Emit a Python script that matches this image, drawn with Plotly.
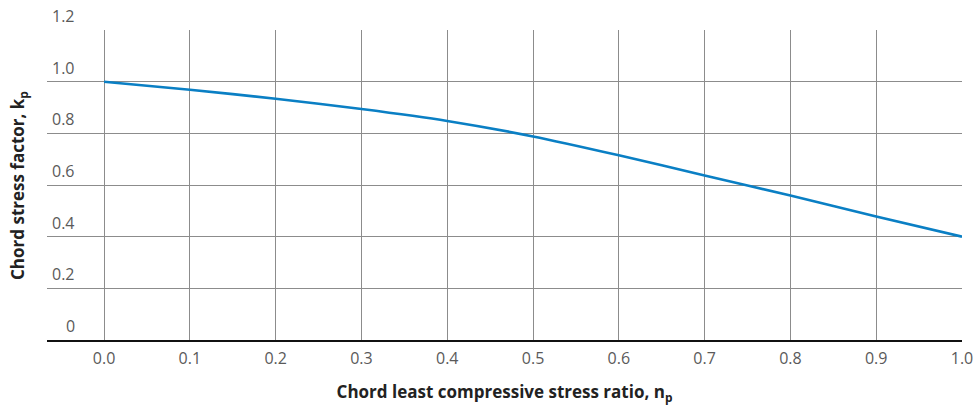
import plotly.graph_objects as go

np_ratio = [0.0, 0.1, 0.2, 0.3, 0.4, 0.5, 0.6, 0.7, 0.8, 0.9, 1.0]
kp_values = [1.0, 0.969, 0.934, 0.894, 0.848, 0.788, 0.715, 0.637, 0.559, 0.478, 0.40]
x_tick_vals = [0.0, 0.1, 0.2, 0.3, 0.4, 0.5, 0.6, 0.7, 0.8, 0.9, 1.0]
x_tick_text = ["0.0", "0.1", "0.2", "0.3", "0.4", "0.5", "0.6", "0.7", "0.8", "0.9", "1.0"]
y_tick_vals = [0, 0.2, 0.4, 0.6, 0.8, 1.0, 1.2]
y_tick_text = ["0", "0.2", "0.4", "0.6", "0.8", "1.0", "1.2"]

FONT = "Open Sans"
TICK_COLOR = "#5a5a5a"
GRID = "#8c8c8c"

fig = go.Figure()
fig.add_trace(go.Scatter(
    x=np_ratio, y=kp_values, mode="lines",
    line=dict(color="#0a7fc4", width=2.6, shape="spline", smoothing=0.6),
    hoverinfo="skip", showlegend=False, cliponaxis=False,
))

fig.update_layout(
    width=974, height=407,
    margin=dict(l=47, r=12, t=30, b=67, autoexpand=False),
    paper_bgcolor="white", plot_bgcolor="white",
    font=dict(family=FONT, color=TICK_COLOR, size=16),
    xaxis=dict(
        range=[-0.0665, 1.0], tickvals=x_tick_vals, ticktext=x_tick_text,
        showgrid=True, gridcolor=GRID, gridwidth=1, automargin=False,
        ticklabeloverflow="allow",
        zeroline=False, showline=True, linecolor="#111111", linewidth=2,
        ticks="", ticklabelstandoff=3,
        tickfont=dict(family=FONT, size=16, color=TICK_COLOR),
        title=dict(text="<b>Chord least compressive stress ratio, n<sub>p</sub></b>",
                   font=dict(family=FONT, size=17, color="#222222"), standoff=18),
    ),
    yaxis=dict(
        range=[0, 1.2], tickvals=y_tick_vals, showticklabels=False,
        showgrid=True, gridcolor=GRID, gridwidth=1, zeroline=False,
        showline=False, ticks="", automargin=False,
    ),
)

for v, t in zip(y_tick_vals, y_tick_text):
    fig.add_annotation(
        x=-0.0315, y=v, xref="x", yref="y", text=t, showarrow=False,
        xanchor="right", yanchor="bottom", yshift=1,
        font=dict(family=FONT, size=16, color=TICK_COLOR),
    )

fig.add_annotation(
    x=-0.0317, y=0.5, xref="paper", yref="paper",
    text="<b>Chord stress factor, k<sub>p</sub></b>",
    showarrow=False, textangle=-90, xanchor="center", yanchor="middle",
    font=dict(family=FONT, size=17, color="#222222"),
)

fig.write_html(
    "out.html",
    config={"displayModeBar": False, "staticPlot": True},
    post_script="document.body.style.margin='0';document.body.style.overflow='hidden';",
)
